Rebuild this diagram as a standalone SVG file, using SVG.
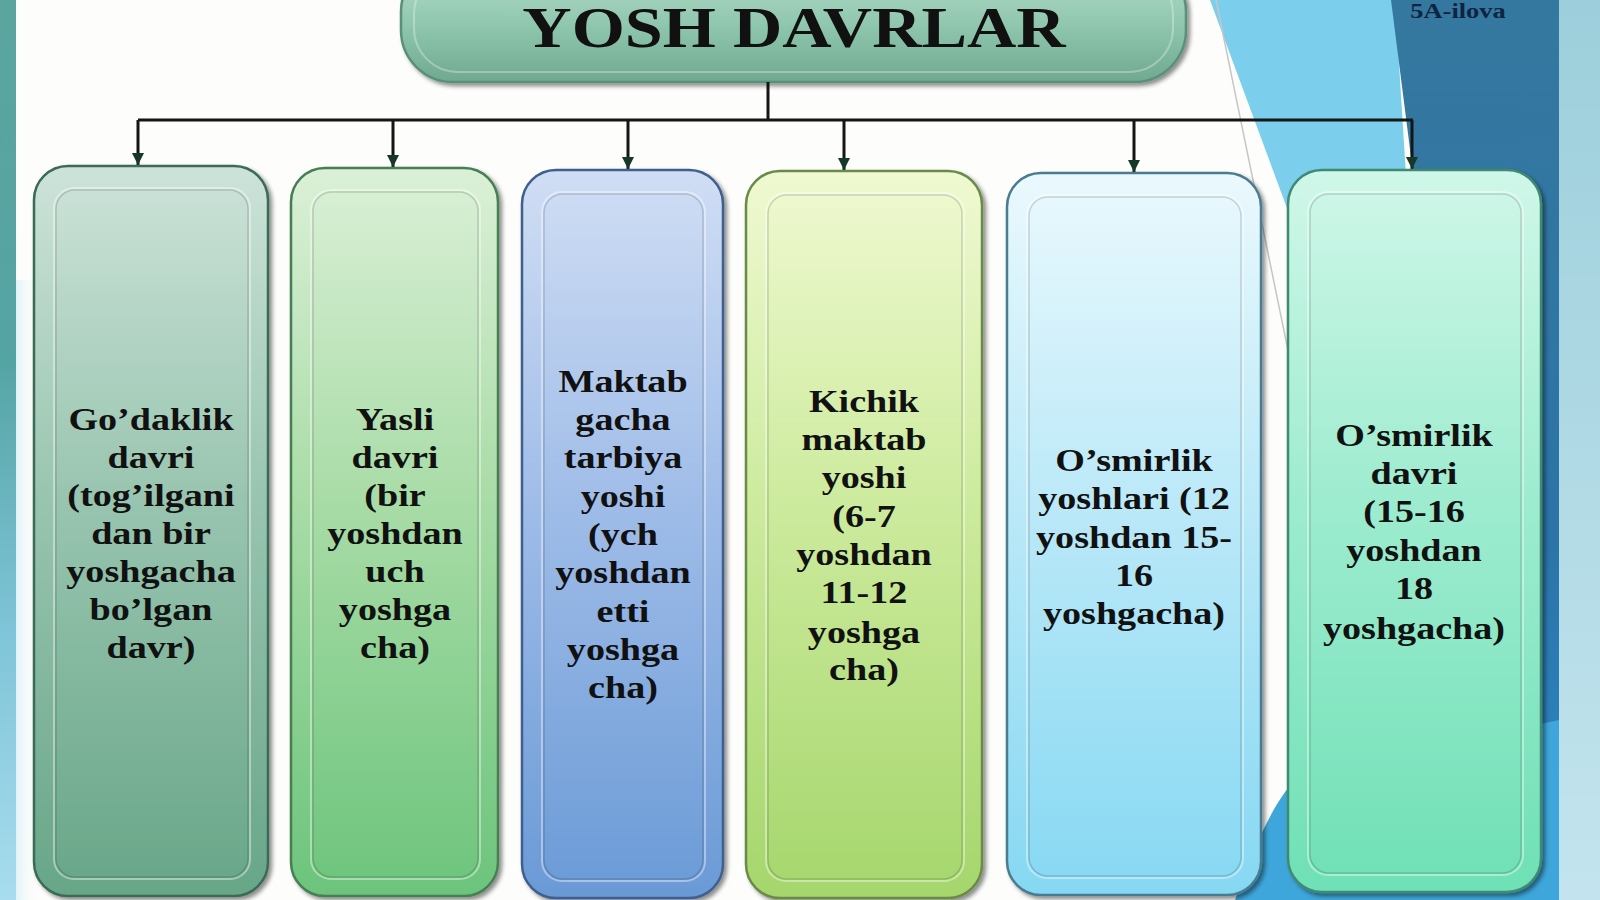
<svg xmlns="http://www.w3.org/2000/svg" width="1600" height="900" viewBox="0 0 1600 900">
<style>
.t{font-family:"Liberation Serif","Times New Roman",serif;font-weight:bold;font-size:31px;fill:#111;text-anchor:middle}
.title{font-family:"Liberation Serif","Times New Roman",serif;font-weight:bold;font-size:56px;fill:#111;text-anchor:middle}
.box{stroke-width:2.5;filter:url(#sh)}
.rimL{fill:none;stroke:#ffffff;stroke-opacity:0.4;stroke-width:2}
.rimD{fill:none;stroke:#000;stroke-opacity:0.15;stroke-width:1.5}
.conn{stroke:#151515;stroke-width:3;fill:none}
.drop{stroke:#151515;stroke-width:3;fill:none;marker-end:url(#arr)}
</style>
<defs>
<filter id="sh" x="-10%" y="-10%" width="130%" height="130%">
<feDropShadow dx="3" dy="3" stdDeviation="2" flood-color="#000" flood-opacity="0.45"/>
</filter>
<marker id="arr" markerUnits="userSpaceOnUse" markerWidth="14" markerHeight="14" refX="12" refY="7" orient="auto">
<path d="M0,1 L12,7 L0,13 Z" fill="#163826"/>
</marker>
<linearGradient id="leftG" x1="0" y1="0" x2="0" y2="1">
<stop offset="0" stop-color="#5aa59e"/><stop offset="0.4" stop-color="#55a4a4"/><stop offset="0.7" stop-color="#7fc4d8"/><stop offset="1" stop-color="#a8dcee"/>
</linearGradient>
<linearGradient id="leftFade" x1="0" y1="0" x2="1" y2="0">
<stop offset="0" stop-color="#a9dcee" stop-opacity="0.9"/><stop offset="1" stop-color="#ffffff" stop-opacity="0"/>
</linearGradient>
<linearGradient id="darkG" x1="0" y1="0" x2="0" y2="1">
<stop offset="0" stop-color="#35789f"/><stop offset="0.6" stop-color="#2c74a8"/><stop offset="1" stop-color="#2b8ac8"/>
</linearGradient>
<linearGradient id="paleG" x1="0" y1="0" x2="0" y2="1">
<stop offset="0" stop-color="#9ccfdb"/><stop offset="1" stop-color="#c3e4ee"/>
</linearGradient>
<linearGradient id="pillG" x1="0" y1="0" x2="0" y2="1">
<stop offset="0" stop-color="#b8dece"/><stop offset="0.55" stop-color="#8ec6ad"/><stop offset="1" stop-color="#6fa98f"/>
</linearGradient>
<linearGradient id="g1" x1="0" y1="0" x2="0" y2="1">
<stop offset="0" stop-color="#cde3d9"/><stop offset="0.45" stop-color="#99c5b0"/><stop offset="1" stop-color="#68a688"/>
</linearGradient>
<linearGradient id="g2" x1="0" y1="0" x2="0" y2="1">
<stop offset="0" stop-color="#dbf0d7"/><stop offset="0.45" stop-color="#a9dca7"/><stop offset="1" stop-color="#6cc47c"/>
</linearGradient>
<linearGradient id="g3" x1="0" y1="0" x2="0" y2="1">
<stop offset="0" stop-color="#d0def4"/><stop offset="0.45" stop-color="#a0bde8"/><stop offset="1" stop-color="#6a9ad6"/>
</linearGradient>
<linearGradient id="g4" x1="0" y1="0" x2="0" y2="1">
<stop offset="0" stop-color="#f0f9d2"/><stop offset="0.45" stop-color="#cdeb9e"/><stop offset="1" stop-color="#a5d66c"/>
</linearGradient>
<linearGradient id="g5" x1="0" y1="0" x2="0" y2="1">
<stop offset="0" stop-color="#eaf9fd"/><stop offset="0.45" stop-color="#bce9f8"/><stop offset="1" stop-color="#86d8f2"/>
</linearGradient>
<linearGradient id="g6" x1="0" y1="0" x2="0" y2="1">
<stop offset="0" stop-color="#d0f7e9"/><stop offset="0.45" stop-color="#9eecd0"/><stop offset="1" stop-color="#6fe0b6"/>
</linearGradient>
</defs>

<g id="background">
<rect x="0" y="0" width="1600" height="900" fill="#fdfdfb"/>
<rect x="0" y="280" width="40" height="620" fill="url(#leftFade)"/>
<rect x="0" y="0" width="16" height="900" fill="url(#leftG)"/>
<polygon points="1210,0 1395,0 1420,400 1358,400" fill="#7bceec"/>
<line x1="1216" y1="0" x2="1290" y2="360" stroke="#c6c6c6" stroke-width="1.5"/>
<polygon points="1391,0 1559,0 1559,900 1500,900 1412,165" fill="url(#darkG)"/>
<rect x="1559" y="0" width="41" height="900" fill="url(#paleG)"/>
<path d="M1235,900 C1258,835 1278,795 1300,775 L1559,720 L1559,900 Z" fill="#3ea6da"/>
<text x="0" y="18" transform="translate(1458,0) scale(1.2,1)" font-family="Liberation Serif, Times New Roman, serif" font-weight="bold" font-size="22" fill="#0e2440" text-anchor="middle">5A-ilova</text>
</g>

<g id="title">
<rect x="401" y="-40" width="785" height="122" rx="52" fill="url(#pillG)" stroke="#5a9079" stroke-width="2.5" filter="url(#sh)"/>
<rect x="414" y="-30" width="759" height="102" rx="44" fill="none" stroke="#ffffff" stroke-opacity="0.3" stroke-width="2"/>
<text class="title" x="0" y="47" transform="translate(794,0) scale(1.22,1)">YOSH DAVRLAR</text>
</g>

<g id="connectors">
<polyline class="conn" points="768,82 768,120"/>
<polyline class="conn" points="138,120 1413,120"/>
<line class="drop" x1="138" y1="120" x2="138" y2="165"/>
<line class="drop" x1="393" y1="120" x2="393" y2="167"/>
<line class="drop" x1="628" y1="120" x2="628" y2="169"/>
<line class="drop" x1="844" y1="120" x2="844" y2="170"/>
<line class="drop" x1="1134" y1="120" x2="1134" y2="172"/>
<line class="drop" x1="1412" y1="120" x2="1412" y2="169"/>
</g>

<g id="node-1">
<rect class="box" x="34" y="166" width="234" height="730" rx="34" fill="url(#g1)" stroke="#3a6a58"/>
<rect class="rimL" x="54" y="188" width="196" height="691" rx="20"/>
<rect class="rimD" x="56" y="190" width="192" height="687" rx="19"/>
<g transform="translate(151,0) scale(1.23,1)">
<text class="t" x="0" y="430">Go’daklik</text>
<text class="t" x="0" y="468">davri</text>
<text class="t" x="0" y="506">(tog’ilgani</text>
<text class="t" x="0" y="544">dan bir</text>
<text class="t" x="0" y="582">yoshgacha</text>
<text class="t" x="0" y="620">bo’lgan</text>
<text class="t" x="0" y="658">davr)</text>
</g>
</g>

<g id="node-2">
<rect class="box" x="291" y="168" width="207" height="728" rx="34" fill="url(#g2)" stroke="#467e52"/>
<rect class="rimL" x="311" y="190" width="169" height="689" rx="20"/>
<rect class="rimD" x="313" y="192" width="165" height="685" rx="19"/>
<g transform="translate(395,0) scale(1.23,1)">
<text class="t" x="0" y="430">Yasli</text>
<text class="t" x="0" y="468">davri</text>
<text class="t" x="0" y="506">(bir</text>
<text class="t" x="0" y="544">yoshdan</text>
<text class="t" x="0" y="582">uch</text>
<text class="t" x="0" y="620">yoshga</text>
<text class="t" x="0" y="658">cha)</text>
</g>
</g>

<g id="node-3">
<rect class="box" x="522" y="170" width="201" height="728" rx="34" fill="url(#g3)" stroke="#3f5f8f"/>
<rect class="rimL" x="542" y="192" width="163" height="689" rx="20"/>
<rect class="rimD" x="544" y="194" width="159" height="685" rx="19"/>
<g transform="translate(623,0) scale(1.23,1)">
<text class="t" x="0" y="392">Maktab</text>
<text class="t" x="0" y="430">gacha</text>
<text class="t" x="0" y="468">tarbiya</text>
<text class="t" x="0" y="507">yoshi</text>
<text class="t" x="0" y="545">(ych</text>
<text class="t" x="0" y="583">yoshdan</text>
<text class="t" x="0" y="622">etti</text>
<text class="t" x="0" y="660">yoshga</text>
<text class="t" x="0" y="698">cha)</text>
</g>
</g>

<g id="node-4">
<rect class="box" x="746" y="171" width="236" height="727" rx="34" fill="url(#g4)" stroke="#6b8a48"/>
<rect class="rimL" x="766" y="193" width="198" height="688" rx="20"/>
<rect class="rimD" x="768" y="195" width="194" height="684" rx="19"/>
<g transform="translate(864,0) scale(1.23,1)">
<text class="t" x="0" y="412">Kichik</text>
<text class="t" x="0" y="450">maktab</text>
<text class="t" x="0" y="488">yoshi</text>
<text class="t" x="0" y="527">(6-7</text>
<text class="t" x="0" y="565">yoshdan</text>
<text class="t" x="0" y="603">11-12</text>
<text class="t" x="0" y="643">yoshga</text>
<text class="t" x="0" y="680">cha)</text>
</g>
</g>

<g id="node-5">
<rect class="box" x="1007" y="173" width="254" height="722" rx="34" fill="url(#g5)" stroke="#4a7c90"/>
<rect class="rimL" x="1027" y="195" width="216" height="683" rx="20"/>
<rect class="rimD" x="1029" y="197" width="212" height="679" rx="19"/>
<g transform="translate(1134,0) scale(1.23,1)">
<text class="t" x="0" y="471">O’smirlik</text>
<text class="t" x="0" y="509">yoshlari (12</text>
<text class="t" x="0" y="548">yoshdan 15-</text>
<text class="t" x="0" y="586">16</text>
<text class="t" x="0" y="624">yoshgacha)</text>
</g>
</g>

<g id="node-6">
<rect class="box" x="1288" y="170" width="253" height="722" rx="34" fill="url(#g6)" stroke="#3f8a72"/>
<rect class="rimL" x="1308" y="192" width="215" height="683" rx="20"/>
<rect class="rimD" x="1310" y="194" width="211" height="679" rx="19"/>
<g transform="translate(1414,0) scale(1.23,1)">
<text class="t" x="0" y="446">O’smirlik</text>
<text class="t" x="0" y="484">davri</text>
<text class="t" x="0" y="522">(15-16</text>
<text class="t" x="0" y="561">yoshdan</text>
<text class="t" x="0" y="599">18</text>
<text class="t" x="0" y="639">yoshgacha)</text>
</g>
</g>
</svg>
